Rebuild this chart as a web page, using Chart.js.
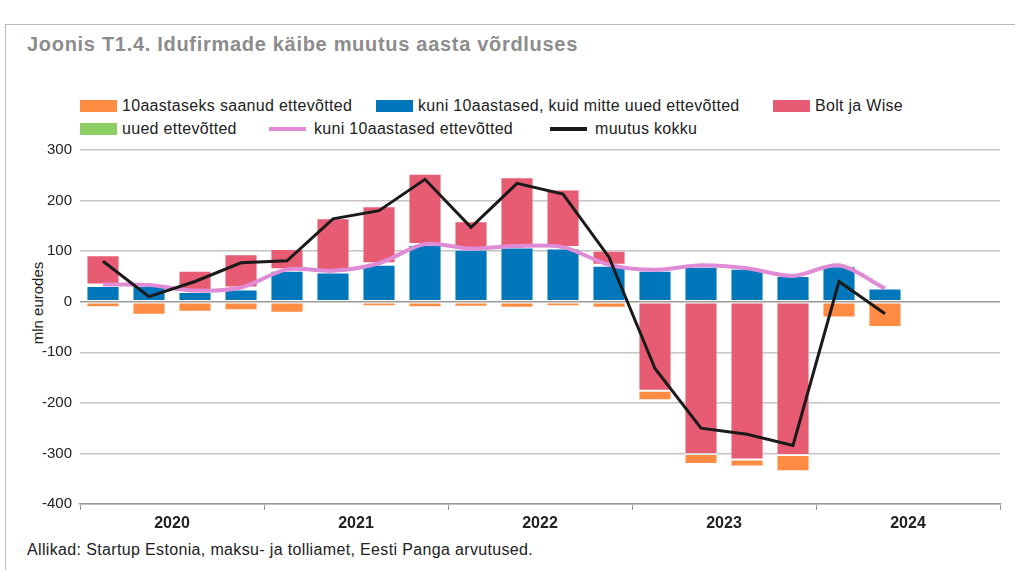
<!DOCTYPE html>
<html>
<head>
<meta charset="utf-8">
<script src="https://cdn.jsdelivr.net/npm/chart.js@4.4.1/dist/chart.umd.min.js"></script>
<style>
  html, body { margin: 0; padding: 0; background: #fff; }
  body { width: 1015px; height: 570px; position: relative; overflow: hidden; font-family: "Liberation Sans", Arial, sans-serif; }
  .frame { position: absolute; left: 5px; top: 24px; width: 1020px; height: 560px; border-top: 1px solid #b8b8b8; border-left: 1px solid #b8b8b8; }
  .title { position: absolute; left: 27px; top: 33px; font-size: 20px; letter-spacing: 0.7px; font-weight: bold; color: #8c8c8c; white-space: nowrap; }
  .legend-item { position: absolute; display: flex; align-items: center; font-size: 16px; letter-spacing: 0.3px; color: #222; white-space: nowrap; height: 18px; }
  .swatch { width: 37px; height: 12px; margin-right: 5px; }
  .swatch.line { height: 4px; margin-right: 8px; }
  .ylabel { position: absolute; left: 37px; top: 303px; transform: translate(-50%, -50%) rotate(-90deg); font-size: 15px; color: #222; white-space: nowrap; }
  .source { position: absolute; left: 27px; top: 541px; font-size: 16px; letter-spacing: 0.35px; color: #222; white-space: nowrap; }
  #wrap { position: absolute; left: 0; top: 0; width: 1015px; height: 570px; }
</style>
</head>
<body>
<div class="frame"></div>
<div class="title">Joonis T1.4. Idufirmade käibe muutus aasta võrdluses</div>
<div id="legend"></div>
<div class="ylabel">mln eurodes</div>
<div class="source">Allikad: Startup Estonia, maksu- ja tolliamet, Eesti Panga arvutused.</div>
<div id="wrap"><canvas id="chart"></canvas></div>
<script>
// quarters on the x axis (2024 H2 left empty as in the source)
const quarters = [
  'I 2020', 'II 2020', 'III 2020', 'IV 2020',
  'I 2021', 'II 2021', 'III 2021', 'IV 2021',
  'I 2022', 'II 2022', 'III 2022', 'IV 2022',
  'I 2023', 'II 2023', 'III 2023', 'IV 2023',
  'I 2024', 'II 2024', 'III 2024', 'IV 2024'
];
const years = ['2020', '2021', '2022', '2023', '2024'];

// mln eurodes
const turnedTen   = [-11, -26, -20, -17, -22, -1, -9, -11, -10, -12, -9, -12, -19, -20, -14, -32, -31, -50];
const youngNotNew = [31, 31, 19, 24, 61, 58, 73, 112, 103, 107, 105, 71, 61, 69, 65, 51, 70, 26];
const newFirms    = [3, 1, 3, 4, 3, 3, 3, 2, 2, 3, 3, 2, 2, 2, 1, 1, 2, 0];
const boltWise    = [58, 4, 39, 66, 40, 104, 113, 139, 54, 136, 114, 28, -176, -301, -312, -303, 0, 0];
const youngTotal  = [34, 33, 22, 28, 64, 61, 76, 114, 105, 110, 108, 73, 63, 72, 66, 51, 72, 26];
const totalChange = [80, 10, 40, 77, 81, 164, 180, 242, 147, 234, 213, 88, -132, -250, -262, -284, 40, -24];

const yTicks = [300, 200, 100, 0, -100, -200, -300, -400];

const colors = {
  orange: '#ff8c42',
  blue: '#0077bb',
  red: '#e75c72',
  green: '#8ccd64',
  pink: '#df8bd6',
  black: '#1a1a1a'
};

// legend (drawn as html, same layout as the source)
const legendItems = [
  { label: '10aastaseks saanud ettevõtted', color: colors.orange, left: 80, top: 97 },
  { label: 'kuni 10aastased, kuid mitte uued ettevõtted', color: colors.blue, left: 376, top: 97 },
  { label: 'Bolt ja Wise', color: colors.red, left: 773, top: 97 },
  { label: 'uued ettevõtted', color: colors.green, left: 80, top: 120 },
  { label: 'kuni 10aastased ettevõtted', color: colors.pink, left: 269, top: 120, line: true },
  { label: 'muutus kokku', color: colors.black, left: 550, top: 120, line: true }
];
const legendEl = document.getElementById('legend');
legendItems.forEach(item => {
  const el = document.createElement('div');
  el.className = 'legend-item';
  el.style.left = item.left + 'px';
  el.style.top = item.top + 'px';
  const sw = document.createElement('span');
  sw.className = item.line ? 'swatch line' : 'swatch';
  sw.style.background = item.color;
  el.appendChild(sw);
  el.appendChild(document.createTextNode(item.label));
  legendEl.appendChild(el);
});

const barBase = {
  type: 'bar',
  stack: 'bars',
  order: 1,
  borderWidth: 1,
  borderColor: 'rgba(255,255,255,0.3)',
  borderSkipped: false,
  categoryPercentage: 1,
  barPercentage: 0.72
};

new Chart(document.getElementById('chart'), {
  data: {
    labels: quarters,
    datasets: [
      { ...barBase, label: 'kuni 10aastased, kuid mitte uued ettevõtted', data: youngNotNew, backgroundColor: colors.blue },
      { ...barBase, label: 'uued ettevõtted', data: newFirms, backgroundColor: colors.green },
      { ...barBase, label: 'Bolt ja Wise', data: boltWise, backgroundColor: colors.red },
      { ...barBase, label: '10aastaseks saanud ettevõtted', data: turnedTen, backgroundColor: colors.orange },
      {
        type: 'line', label: 'kuni 10aastased ettevõtted', data: youngTotal, stack: 'pink', order: 0,
        borderColor: colors.pink, borderWidth: 4, pointRadius: 0, tension: 0.3, fill: false
      },
      {
        type: 'line', label: 'muutus kokku', data: totalChange, stack: 'black', order: -1,
        borderColor: colors.black, borderWidth: 3, pointRadius: 0, tension: 0, fill: false
      }
    ]
  },
  options: {
    responsive: true,
    maintainAspectRatio: false,
    animation: false,
    layout: { padding: { left: 0, right: 15, top: 150, bottom: 0 } },
    plugins: {
      legend: { display: false },
      tooltip: { enabled: false }
    },
    scales: {
      x: {
        type: 'category',
        display: false,
        stacked: true,
        offset: true
      },
      years: {
        type: 'category',
        labels: years,
        position: 'bottom',
        offset: true,
        grid: {
          offset: true,
          drawOnChartArea: false,
          drawTicks: true,
          tickLength: 6,
          color: '#9a9a9a'
        },
        border: { display: true, color: '#9a9a9a', width: 1.5 },
        ticks: {
          color: '#222',
          padding: 4,
          font: { family: "'Liberation Sans', Arial, sans-serif", size: 16, weight: 'bold' }
        },
        afterFit: (scale) => { scale.height = 66; }
      },
      y: {
        stacked: true,
        min: -400,
        max: 300,
        afterBuildTicks: (scale) => { scale.ticks = yTicks.map(v => ({ value: v })); },
        grid: {
          drawTicks: false,
          lineWidth: 1.5,
          color: (ctx) => (ctx.tick && ctx.tick.value === 0) ? '#9a9a9a' : '#c3c3c3'
        },
        border: { display: false },
        ticks: {
          color: '#222',
          padding: 8,
          font: { family: "'Liberation Sans', Arial, sans-serif", size: 15 }
        },
        afterFit: (scale) => { scale.width = 80; }
      }
    }
  }
});
</script>
</body>
</html>
